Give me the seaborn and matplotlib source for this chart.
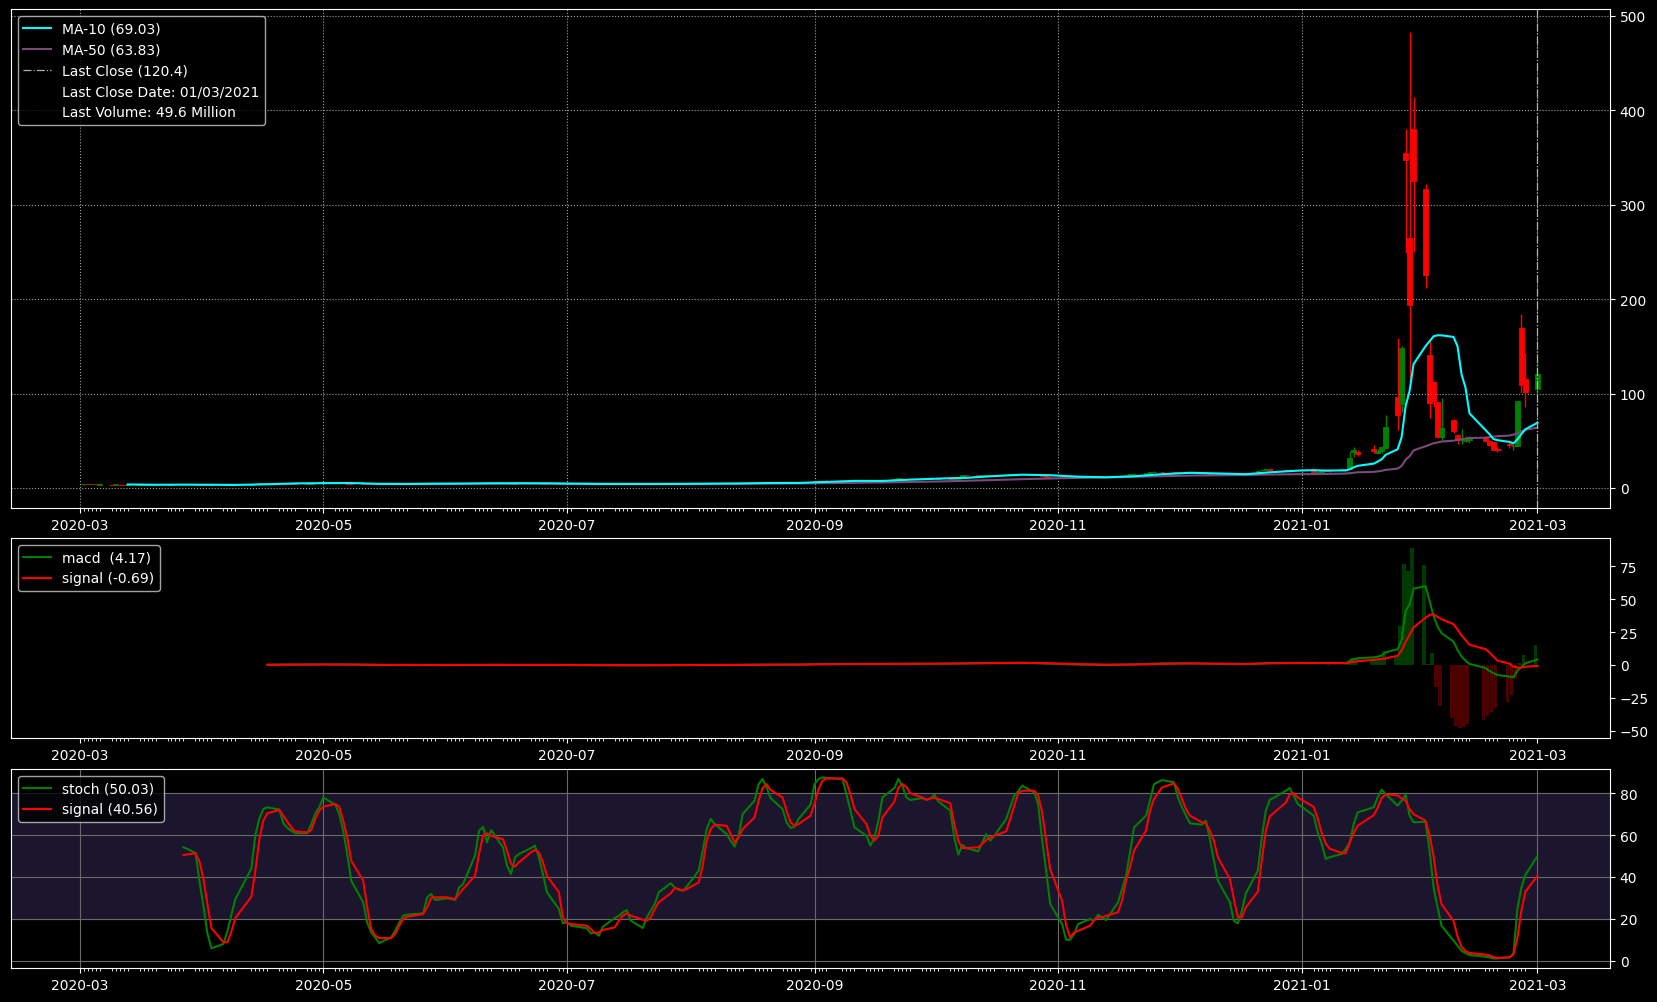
import numpy as np
import pandas as pd
import matplotlib
matplotlib.use("Agg")
import matplotlib.pyplot as plt
import matplotlib.dates as mdates
from matplotlib.lines import Line2D
from matplotlib.ticker import MultipleLocator
import seaborn as sns

# trading days (NYSE holidays removed)
holidays = ["2020-04-10", "2020-05-25", "2020-07-03", "2020-09-07", "2020-11-26",
            "2020-12-25", "2021-01-01", "2021-01-18", "2021-02-15"]
dates = pd.bdate_range("2020-03-02", "2021-03-01").drop(pd.to_datetime(holidays))

opens = [
    3.80, 3.95, 3.85, 3.90, 3.70, 3.60, 3.58, 3.70, 3.50, 3.45, 3.35, 3.25, 3.30, 2.90, 3.35, 3.45, 3.50, 3.80, 3.88, 3.92, 3.75, 3.78,
    3.45, 3.25, 2.98, 2.85, 2.95, 3.10, 3.35, 3.70, 4.15, 4.70, 5.05, 5.28, 5.30, 5.15, 4.82, 4.76, 4.72, 4.66, 4.75, 5.15, 5.52,
    5.80, 6.00, 5.78, 5.42, 4.98, 4.58, 4.33, 4.22, 4.08, 3.98, 4.07, 4.02, 4.17, 4.32, 4.47, 4.53, 4.56, 4.58, 4.71, 4.70,
    4.64, 4.63, 4.58, 4.62, 4.78, 4.88, 5.22, 5.50, 5.50, 5.08, 5.20, 5.02, 4.86, 4.72, 4.95, 4.98, 5.05, 5.08, 4.88, 4.68, 4.50, 4.40,
    4.35, 4.32, 4.27, 4.18, 4.10, 4.13, 4.10, 4.20, 4.25, 4.27, 4.30, 4.32, 4.20, 4.13, 4.23, 4.28, 4.34, 4.42, 4.44, 4.40, 4.37, 4.36,
    4.42, 4.52, 4.66, 4.84, 4.92, 4.88, 4.81, 4.76, 4.73, 4.87, 5.08, 5.25, 5.52, 5.60, 5.53, 5.44, 5.34, 5.20, 5.14, 5.20, 5.60,
    6.90, 7.70, 7.78, 7.90, 7.80, 7.65, 7.32, 7.02, 6.97, 6.88, 6.72, 7.00, 7.70, 8.90, 9.80, 10.05, 9.90, 9.70, 9.82, 9.92, 9.88,
    10.20, 10.30, 9.75, 9.50, 9.10, 10.50, 13.60, 13.40, 13.10, 13.35, 13.85, 13.60, 13.85, 14.20, 14.35, 14.50, 14.62, 14.70, 14.15, 13.50, 12.30, 11.65,
    11.20, 10.95, 10.85, 10.70, 11.05, 11.50, 11.35, 11.52, 11.62, 11.38, 12.20, 12.60, 13.25, 13.70, 14.50, 15.30, 16.10, 16.95, 17.25, 17.00,
    16.60, 16.00, 15.62, 15.85, 16.85, 16.40, 15.20, 13.70, 13.90, 13.82, 13.72, 13.60, 13.90, 14.85, 15.90, 19.40, 19.50, 19.99, 19.55, 19.50, 19.35, 19.25,
    19.00, 17.35, 17.34, 18.47, 18.18, 19.41, 19.96, 20.42, 38.09, 38.49, 41.55, 37.37, 39.23, 42.59, 96.73, 88.56, 354.83, 265.00, 379.71,
    316.56, 140.76, 112.01, 91.19, 54.04, 72.41, 56.61, 50.77, 50.01, 50.75, 52.66, 49.77, 48.49, 41.28, 46.69, 44.97, 44.70, 169.56, 115.00,
    104.54,
]
highs = [
    4.05, 4.00, 4.05, 3.98, 3.85, 3.70, 3.80, 3.78, 3.55, 3.70, 3.45, 3.50, 3.35, 3.45, 3.65, 3.55, 3.85, 4.00, 4.05, 4.00, 3.90, 3.82,
    3.50, 3.30, 3.05, 2.98, 3.15, 3.40, 3.70, 4.20, 4.80, 5.10, 5.40, 5.45, 5.40, 5.20, 4.90, 4.85, 4.80, 4.80, 5.20, 5.60, 5.85,
    6.20, 6.10, 5.85, 5.50, 5.05, 4.65, 4.40, 4.30, 4.12, 4.12, 4.12, 4.22, 4.35, 4.50, 4.60, 4.62, 4.65, 4.78, 4.80, 4.75,
    4.70, 4.68, 4.66, 4.82, 4.90, 5.28, 5.60, 5.68, 5.55, 5.32, 5.25, 5.08, 4.90, 4.98, 5.05, 5.10, 5.15, 5.12, 4.92, 4.72, 4.55, 4.45,
    4.40, 4.36, 4.30, 4.22, 4.18, 4.16, 4.24, 4.30, 4.32, 4.35, 4.38, 4.36, 4.24, 4.26, 4.32, 4.38, 4.46, 4.50, 4.48, 4.44, 4.42, 4.45,
    4.56, 4.70, 4.88, 4.98, 4.98, 4.92, 4.85, 4.80, 4.90, 5.12, 5.30, 5.58, 5.70, 5.65, 5.58, 5.48, 5.38, 5.25, 5.24, 5.45, 6.90,
    7.90, 8.00, 8.05, 8.10, 7.95, 7.70, 7.40, 7.15, 7.05, 6.95, 7.05, 7.80, 8.25, 10.05, 10.35, 10.20, 10.05, 9.95, 10.05, 10.10, 10.40,
    10.50, 10.40, 9.90, 9.60, 9.60, 13.60, 14.20, 13.70, 13.50, 14.00, 14.10, 13.95, 14.40, 14.60, 14.80, 14.90, 15.00, 14.85, 14.30, 13.60, 12.50, 11.85,
    11.30, 11.10, 10.95, 11.15, 11.55, 11.65, 11.60, 11.75, 11.70, 11.45, 12.70, 13.40, 13.80, 14.60, 15.40, 16.20, 17.10, 17.50, 17.40, 17.10,
    16.70, 16.20, 15.95, 17.10, 16.95, 17.20, 15.40, 14.10, 14.05, 14.00, 13.85, 13.95, 14.95, 15.80, 18.80, 20.50, 20.30, 20.20, 19.80, 19.70, 19.50, 19.30,
    19.10, 18.08, 18.98, 19.45, 18.30, 20.65, 20.40, 38.65, 43.06, 40.75, 45.52, 41.19, 44.75, 76.76, 159.18, 150.00, 380.00, 483.00, 413.98,
    322.00, 158.00, 113.40, 91.50, 95.00, 72.66, 57.00, 62.83, 55.32, 55.24, 53.50, 51.19, 48.87, 43.72, 48.51, 46.23, 91.71, 184.68, 142.90,
    133.99,
]
lows = [
    3.70, 3.78, 3.80, 3.78, 3.62, 3.45, 3.50, 3.55, 3.25, 3.35, 3.15, 3.20, 2.75, 2.85, 3.25, 3.30, 3.45, 3.72, 3.80, 3.78, 3.70, 3.45,
    3.20, 2.90, 2.57, 2.80, 2.90, 3.05, 3.30, 3.65, 4.05, 4.60, 4.95, 5.15, 5.10, 4.75, 4.70, 4.62, 4.58, 4.60, 4.70, 5.05, 5.45,
    5.70, 5.75, 5.40, 4.95, 4.55, 4.30, 4.15, 4.05, 3.90, 3.92, 3.95, 3.98, 4.12, 4.28, 4.42, 4.48, 4.48, 4.55, 4.65, 4.58,
    4.55, 4.55, 4.55, 4.58, 4.74, 4.85, 5.15, 5.45, 5.05, 5.02, 4.95, 4.80, 4.65, 4.68, 4.90, 4.95, 5.00, 4.86, 4.65, 4.48, 4.38, 4.30,
    4.26, 4.22, 4.16, 4.06, 4.06, 4.04, 4.06, 4.16, 4.22, 4.24, 4.27, 4.18, 4.08, 4.10, 4.20, 4.25, 4.30, 4.38, 4.36, 4.34, 4.33, 4.33,
    4.38, 4.48, 4.62, 4.80, 4.85, 4.78, 4.72, 4.68, 4.70, 4.82, 5.02, 5.20, 5.45, 5.50, 5.40, 5.30, 5.15, 5.10, 5.10, 5.16, 5.55,
    6.85, 7.55, 7.60, 7.70, 7.60, 7.30, 6.95, 6.85, 6.80, 6.62, 6.65, 6.95, 7.60, 8.80, 9.60, 9.80, 9.60, 9.60, 9.70, 9.75, 9.80,
    10.10, 9.70, 9.40, 8.95, 9.00, 10.30, 13.00, 13.00, 12.95, 13.20, 13.40, 13.45, 13.75, 14.05, 14.20, 14.35, 14.50, 14.10, 13.50, 12.30, 11.50, 11.10,
    10.80, 10.70, 10.50, 10.60, 10.95, 11.20, 11.25, 11.40, 11.35, 11.20, 12.10, 12.50, 13.10, 13.60, 14.40, 15.20, 15.95, 16.80, 16.85, 16.40,
    15.90, 15.50, 15.50, 15.75, 16.25, 16.30, 13.50, 13.55, 13.70, 13.60, 13.45, 13.55, 13.85, 14.75, 15.80, 19.10, 19.30, 19.40, 19.30, 19.20, 19.10, 18.70,
    17.15, 17.23, 17.33, 18.02, 17.08, 19.01, 19.32, 20.03, 33.05, 34.01, 36.64, 36.06, 37.00, 42.32, 61.13, 80.20, 249.00, 112.25, 250.00,
    212.00, 74.22, 85.25, 53.33, 51.09, 58.02, 46.52, 46.55, 48.22, 48.05, 49.04, 44.56, 40.65, 38.50, 42.40, 40.00, 44.70, 101.00, 86.00,
    99.97,
]
closes = [
    3.94, 3.83, 3.95, 3.82, 3.75, 3.55, 3.72, 3.62, 3.30, 3.60, 3.22, 3.40, 2.85, 3.30, 3.50, 3.40, 3.75, 3.90, 3.95, 3.82, 3.80, 3.50,
    3.28, 2.95, 2.80, 2.90, 3.05, 3.30, 3.60, 4.10, 4.65, 5.00, 5.25, 5.30, 5.20, 4.80, 4.75, 4.70, 4.65, 4.72, 5.10, 5.50, 5.75,
    6.05, 5.80, 5.45, 5.00, 4.60, 4.35, 4.20, 4.10, 3.98, 4.05, 4.00, 4.15, 4.30, 4.45, 4.52, 4.54, 4.55, 4.70, 4.72, 4.63,
    4.62, 4.60, 4.61, 4.77, 4.83, 5.20, 5.52, 5.55, 5.10, 5.25, 5.00, 4.85, 4.70, 4.93, 4.97, 5.04, 5.10, 4.90, 4.70, 4.52, 4.41, 4.34,
    4.30, 4.26, 4.20, 4.10, 4.12, 4.08, 4.19, 4.26, 4.28, 4.31, 4.33, 4.22, 4.12, 4.22, 4.27, 4.33, 4.41, 4.45, 4.40, 4.38, 4.38, 4.40,
    4.51, 4.65, 4.82, 4.93, 4.90, 4.82, 4.77, 4.72, 4.85, 5.06, 5.23, 5.50, 5.62, 5.55, 5.45, 5.36, 5.20, 5.15, 5.18, 5.40, 6.68,
    7.65, 7.80, 7.86, 7.84, 7.70, 7.35, 7.00, 6.95, 6.90, 6.70, 6.95, 7.65, 8.05, 9.77, 10.09, 9.92, 9.70, 9.80, 9.90, 9.85, 10.21,
    10.35, 9.78, 9.55, 9.05, 9.40, 13.49, 13.42, 13.10, 13.30, 13.85, 13.60, 13.80, 14.20, 14.30, 14.55, 14.60, 14.75, 14.20, 13.60, 12.40, 11.70, 11.24,
    10.90, 10.80, 10.60, 11.00, 11.40, 11.30, 11.50, 11.60, 11.40, 11.30, 12.50, 13.20, 13.60, 14.40, 15.20, 16.00, 16.90, 17.20, 17.00, 16.56,
    16.00, 15.60, 15.80, 16.90, 16.35, 16.95, 13.66, 13.85, 13.85, 13.70, 13.58, 13.85, 14.83, 15.63, 18.45, 19.46, 19.99, 19.49, 19.50, 19.38, 19.26, 18.84,
    17.25, 17.37, 18.36, 18.08, 17.69, 19.94, 19.95, 31.40, 39.91, 35.50, 39.36, 39.12, 43.03, 65.01, 76.79, 147.98, 347.51, 193.60, 325.00,
    225.00, 90.00, 92.41, 53.50, 63.77, 60.00, 50.31, 51.20, 51.10, 52.40, 49.51, 45.94, 40.69, 40.59, 46.00, 44.97, 91.71, 108.73, 101.74,
    120.40,
]

# indicator lines: weekly points through 2020, daily from Jan 2021
weekly_2020 = [
    "2020-03-13", "2020-03-20", "2020-03-27", "2020-04-03", "2020-04-09", "2020-04-17", "2020-04-24",
    "2020-05-01", "2020-05-08", "2020-05-15", "2020-05-22", "2020-05-29", "2020-06-05", "2020-06-12",
    "2020-06-19", "2020-06-26", "2020-07-02", "2020-07-10", "2020-07-17", "2020-07-24", "2020-07-31",
    "2020-08-07", "2020-08-14", "2020-08-21", "2020-08-28", "2020-09-04", "2020-09-11", "2020-09-18",
    "2020-09-25", "2020-10-02", "2020-10-09", "2020-10-16", "2020-10-23", "2020-10-30", "2020-11-06",
    "2020-11-13", "2020-11-20", "2020-11-27", "2020-12-04", "2020-12-11", "2020-12-18", "2020-12-24",
    "2020-12-31",
]
ma10 = [
    3.72, 3.45, 3.55, 3.45, 3.25, 3.95, 4.85, 5.15, 5.25, 4.40, 4.25, 4.55, 4.68, 5.00, 5.05, 4.95, 4.60,
    4.25, 4.22, 4.25, 4.37, 4.62, 4.85, 5.30, 5.35, 6.45, 7.50, 7.45, 8.85, 9.95, 10.80, 12.60, 14.10,
    13.50, 12.00, 11.35, 12.40, 14.60, 16.10, 15.40, 14.60, 16.60, 18.40,
    18.9, 18.7, 18.6, 18.5, 18.5, 18.6, 18.6, 19.8, 21.9, 23.5, 25.8, 27.9, 30.4, 35.1, 41.0, 53.8, 86.6,
    102.8, 131.3, 150.2, 155.3, 160.6, 161.7, 161.6, 159.9, 150.1, 120.5, 106.2, 79.0, 61.4, 57.0, 51.8,
    50.6, 48.8, 47.3, 51.4, 57.2, 62.2, 69.03,
]
ma50 = [None] * 9 + [
    4.35, 4.40, 4.45, 4.55, 4.65, 4.72, 4.72, 4.65, 4.58, 4.52, 4.48, 4.45, 4.48, 4.55, 4.68, 4.82, 5.15,
    5.50, 5.85, 6.35, 6.90, 7.65, 8.45, 9.35, 10.05, 10.70, 11.25, 11.85, 12.50, 13.15, 13.45, 13.75,
    14.25, 14.65,
    14.7, 14.75, 14.85, 14.9, 15.0, 15.15, 15.3, 15.65, 16.2, 16.6, 17.1, 17.6, 18.2, 19.2, 20.5, 23.3,
    30.0, 33.6, 39.9, 44.2, 45.8, 47.4, 48.2, 49.2, 50.1, 50.9, 51.6, 52.2, 52.9, 53.3, 53.8, 54.3, 54.9,
    55.5, 56.5, 58.0, 59.9, 61.7, 63.83,
]
macd = [None] * 5 + [
    0.20, 0.35, 0.45, 0.30, 0.00, -0.10, 0.00, 0.05, 0.15, 0.10, 0.05, -0.10, -0.20, -0.20, -0.15, -0.05,
    0.05, 0.15, 0.30, 0.30, 0.80, 0.80, 0.75, 1.00, 1.00, 1.30, 1.60, 1.70, 1.00, 0.30, 0.00, 0.50, 1.20,
    1.30, 0.80, 0.70, 1.50, 1.60,
    1.6, 1.5, 1.5, 1.4, 1.3, 1.4, 1.4, 3.0, 4.5, 5.0, 5.8, 6.3, 7.2, 9.6, 12.0, 19.0, 41.0, 46.0, 58.0,
    60.0, 48.7, 37.4, 29.2, 24.2, 17.7, 11.4, 6.5, 3.3, 0.8, -2.3, -4.5, -6.2, -7.6, -8.8, -9.3, -4.3,
    -1.5, 1.3, 4.17,
]
macd_signal = [None] * 5 + [
    0.15, 0.25, 0.35, 0.35, 0.15, 0.00, -0.05, 0.00, 0.10, 0.10, 0.08, 0.00, -0.12, -0.18, -0.17, -0.10,
    0.00, 0.10, 0.22, 0.28, 0.55, 0.75, 0.78, 0.88, 0.95, 1.15, 1.40, 1.60, 1.30, 0.70, 0.25, 0.30, 0.80,
    1.15, 1.00, 0.80, 1.20, 1.45,
    1.5, 1.5, 1.5, 1.5, 1.5, 1.4, 1.4, 1.8, 2.3, 2.9, 3.9, 4.3, 4.6, 5.0, 7.0, 11.0, 17.5, 23.0, 28.5,
    36.0, 38.0, 38.6, 36.5, 34.8, 31.0, 27.0, 22.5, 19.0, 15.4, 12.0, 9.5, 6.3, 3.3, 1.0, -1.3, -1.9,
    -2.0, -1.3, -0.69,
]
# histogram, daily from Jan 2021
macd_hist = [
    -0.3, -0.2, -0.1, -0.2, -0.5, 0.1, 0.0, 2.0, 5.0, 5.0, 4.0, 4.0, 5.0, 11.0, 7.0, 30.0, 76.5, 71.5, 89.0,
    75.8, 0.5, 9.0, -16.4, -30.8, -40.0, -46.0, -48.0, -47.0, -45.0, -42.0, -39.0, -36.0, -33.0, -28.0,
    -23.0, -10.6, 1.5, 7.6,
    15.2,
]

# stochastic, daily from 2020-03-27
stoch = [
    54.2, 51.5, 38.0,
    26.0, 13.0, 5.9, 8.0, 14.0, 22.0, 29.5, 44.0, 60.0, 68.0, 72.5, 73.3, 72.2, 65.6, 63.5, 62.0, 60.9, 60.9, 65.3, 70.4, 73.3,
    78.0, 74.6, 70.0, 62.0, 51.0, 38.2, 27.9, 18.3, 13.5, 11.0, 8.4, 11.2, 14.3, 18.0, 21.5, 22.0, 22.6, 30.3, 31.9, 29.0,
    29.8, 29.5, 29.0, 35.0, 36.6, 50.2, 62.0, 64.0, 56.5, 62.4, 54.2, 45.4, 41.4, 49.4, 51.0, 53.8, 55.0, 49.4, 41.4, 32.7, 24.7, 17.8,
    18.6, 16.7, 15.5, 13.0, 13.5, 11.9, 16.2, 20.4, 21.5, 23.1, 24.2, 19.1, 15.6, 20.7, 23.9, 27.1, 32.7, 37.0, 35.0, 33.8, 33.5, 35.4,
    43.0, 52.6, 62.9, 67.7, 65.3, 60.5, 57.3, 54.5, 59.7, 70.1, 76.5, 84.4, 86.8, 82.8, 77.7, 72.5, 66.1, 63.4, 64.0, 67.7, 74.6,
    84.4, 86.8, 87.6, 87.3, 86.8, 79.6, 71.7, 63.7, 59.7, 55.0, 58.9, 66.9, 78.0, 82.5, 86.8, 83.6, 78.0, 76.8, 77.7, 76.9, 77.3,
    79.3, 76.1, 71.7, 58.9, 50.7, 55.3, 53.8, 52.2, 56.5, 60.5, 57.3, 59.7, 67.7, 73.3, 78.9, 80.9, 83.6, 80.4, 74.9, 57.3, 43.0, 27.1,
    17.5, 10.0, 10.0, 12.7, 17.5, 19.9, 19.1, 22.0, 20.7, 19.4, 27.9, 34.2, 40.6, 51.8, 63.7, 69.3, 76.5, 84.4, 86.3, 85.2,
    78.0, 73.3, 69.3, 65.6, 65.0, 66.9, 58.0, 47.8, 38.2, 27.9, 19.1, 17.8, 23.9, 32.2, 43.0, 58.9, 71.7, 76.8, 81.2, 82.5, 78.9, 74.9,
    69.3, 61.3, 55.8, 48.6, 49.4, 51.0, 53.4, 56.5, 65.3, 70.9, 73.3, 78.0, 81.7, 79.6, 74.1, 76.5, 79.3, 69.3, 66.1,
    66.4, 52.6, 35.0, 25.5, 16.7, 9.6, 7.2, 4.8, 3.5, 2.7, 1.9, 1.6, 1.1, 1.1, 1.6, 3.2, 25.0, 35.0, 41.0,
    50.03,
]
stoch_signal = [
    50.5, 51.3, 47.5,
    39.0, 27.0, 15.6, 8.8, 8.8, 14.0, 20.4, 30.6, 43.0, 58.0, 67.0, 70.4, 72.0, 69.3, 66.4, 63.7, 61.8, 61.3, 62.4, 67.7, 71.7,
    73.6, 74.9, 73.6, 67.0, 59.0, 47.8, 38.2, 25.5, 15.1, 12.0, 10.8, 10.8, 12.7, 16.7, 19.9, 21.0, 22.3, 25.5, 30.0, 30.3,
    30.3, 29.8, 29.5, 31.9, 34.2, 40.6, 51.0, 59.7, 60.9, 59.7, 58.0, 52.6, 46.2, 45.0, 47.0, 51.8, 52.9, 51.8, 47.0, 40.6, 32.7, 20.7,
    17.8, 17.5, 16.7, 15.1, 13.2, 13.5, 14.7, 15.9, 19.1, 21.5, 22.6, 21.5, 19.6, 19.1, 20.7, 24.7, 27.9, 32.2, 34.7, 34.2, 33.5, 34.2,
    37.4, 45.4, 57.3, 62.9, 65.0, 64.5, 60.5, 56.5, 58.9, 62.9, 68.5, 76.5, 82.5, 84.4, 81.6, 78.0, 71.7, 66.1, 64.5, 65.3, 69.3,
    74.9, 82.0, 86.0, 87.1, 87.1, 85.2, 79.6, 72.5, 65.3, 59.7, 57.3, 59.7, 68.5, 76.0, 82.8, 84.4, 83.0, 80.0, 78.0, 76.9, 77.7,
    77.7, 77.3, 75.2, 65.3, 57.3, 53.8, 53.8, 54.2, 55.8, 57.7, 58.9, 59.7, 61.8, 67.7, 74.1, 80.0, 81.2, 81.2, 78.9, 70.9, 57.3, 43.8,
    28.7, 16.7, 11.2, 13.5, 14.3, 16.7, 19.4, 20.7, 20.7, 21.5, 23.1, 28.7, 38.2, 44.6, 52.6, 62.1, 71.7, 77.3, 82.8, 84.7,
    82.0, 77.3, 72.5, 69.3, 66.1, 65.6, 62.1, 57.3, 49.4, 39.0, 29.5, 20.7, 20.7, 25.5, 33.0, 48.0, 62.0, 69.0, 75.5, 79.5, 80.0, 78.0,
    73.5, 68.0, 61.0, 56.0, 53.5, 51.5, 51.3, 56.5, 61.0, 64.5, 69.5, 73.0, 77.7, 79.5, 79.0, 77.5, 76.5, 72.5, 70.0,
    66.9, 60.0, 50.0, 36.0, 27.0, 19.0, 11.5, 6.7, 4.5, 3.7, 2.9, 2.5, 1.7, 1.3, 1.6, 3.0, 11.0, 24.0, 33.0,
    40.56,
]

last_volume = 49.6  # million

plt.style.use("dark_background")
plt.rcParams["font.family"] = ["DejaVu Sans"]

fig = plt.figure(figsize=(16.58, 10.03), dpi=100)
ax1 = fig.add_axes([0.0066, 0.4925, 0.9645, 0.4975])
ax2 = fig.add_axes([0.0066, 0.2632, 0.9645, 0.1994], sharex=ax1)
ax3 = fig.add_axes([0.0066, 0.0339, 0.9645, 0.1984], sharex=ax1)

# --- price panel: candles + moving averages
o, h, l, c = (np.array(v) for v in (opens, highs, lows, closes))
candle_col = np.where(c >= o, "#008000", "#ff0000")
ax1.vlines(dates, l, h, colors=candle_col, linewidth=1)
ax1.bar(dates, np.abs(c - o), bottom=np.minimum(o, c), width=1.15,
        color=candle_col, edgecolor=candle_col, linewidth=0.6)

line_dates = pd.to_datetime(weekly_2020).append(dates[-39:])
ma50_color = "#7a4a7a"
sns.lineplot(x=line_dates, y=np.array(ma50, float), ax=ax1, color=ma50_color, linewidth=1.5, legend=False)
sns.lineplot(x=line_dates, y=np.array(ma10, float), ax=ax1, color="cyan", linewidth=1.5, legend=False)
ax1.axvline(dates[-1], color="#b0b0b0", linestyle="-.", linewidth=0.9)

handles = [Line2D([], [], color="cyan", lw=1.5),
           Line2D([], [], color=ma50_color, lw=1.5),
           Line2D([], [], color="#b0b0b0", lw=0.9, ls="-."),
           Line2D([], [], color="none"),
           Line2D([], [], color="none")]
labels = [f"MA-10 ({ma10[-1]:.2f})", f"MA-50 ({ma50[-1]:.2f})", f"Last Close ({closes[-1]})",
          f"Last Close Date: {dates[-1]:%d/%m/%Y}", f"Last Volume: {last_volume} Million"]
ax1.legend(handles, labels, loc="upper left")
ax1.grid(True, which="major", linestyle=":", color="#a0a0a0", linewidth=0.8)
ax1.set_ylim(-21.2, 507.1)
ax1.yaxis.set_major_locator(MultipleLocator(100))

# --- MACD panel
hist = np.array(macd_hist)
ax2.bar(dates[-39:], hist, width=-0.8, align="edge",
        color=np.where(hist >= 0, "#003a00", "#4c0000"))
sns.lineplot(x=line_dates, y=np.array(macd, float), ax=ax2, color="#008000", linewidth=1.5, legend=False)
sns.lineplot(x=line_dates, y=np.array(macd_signal, float), ax=ax2, color="#ff0000", linewidth=1.5, legend=False)
ax2.legend([Line2D([], [], color="#008000", lw=1.5), Line2D([], [], color="#ff0000", lw=1.5)],
           [f"macd  ({macd[-1]:.2f})", f"signal ({macd_signal[-1]:.2f})"], loc="upper left")
ax2.set_ylim(-55.5, 96.5)
ax2.yaxis.set_major_locator(MultipleLocator(25))

# --- stochastic panel
ax3.axhspan(20, 80, color="#1b152d", zorder=0)
sdates = dates[-len(stoch):]
sns.lineplot(x=sdates, y=stoch, ax=ax3, color="#008000", linewidth=1.5, legend=False)
sns.lineplot(x=sdates, y=stoch_signal, ax=ax3, color="#ff0000", linewidth=1.5, legend=False)
ax3.legend([Line2D([], [], color="#008000", lw=1.5), Line2D([], [], color="#ff0000", lw=1.5)],
           [f"stoch ({stoch[-1]:.2f})", f"signal ({stoch_signal[-1]:.2f})"], loc="upper left")
ax3.grid(True, which="major", color="#6a6a6a", linewidth=0.8)
ax3.set_ylim(-3.5, 91.6)
ax3.yaxis.set_major_locator(MultipleLocator(20))

# --- shared axis styling
ax1.set_xlim(dates[0] - pd.Timedelta(days=18.2), dates[-1] + pd.Timedelta(days=18.2))
ax1.xaxis.set_major_locator(mdates.MonthLocator(bymonth=[1, 3, 5, 7, 9, 11]))
ax1.xaxis.set_major_formatter(mdates.DateFormatter("%Y-%m"))
ax1.set_xticks(mdates.date2num(dates), minor=True)
for ax in (ax1, ax2, ax3):
    ax.yaxis.tick_right()
    ax.tick_params(axis="x", which="both", labelbottom=True)
    ax.tick_params(axis="both", labelsize=10)
    ax.set_xlabel("")
    ax.set_ylabel("")

fig.savefig("out.png", dpi=100, facecolor="black")
